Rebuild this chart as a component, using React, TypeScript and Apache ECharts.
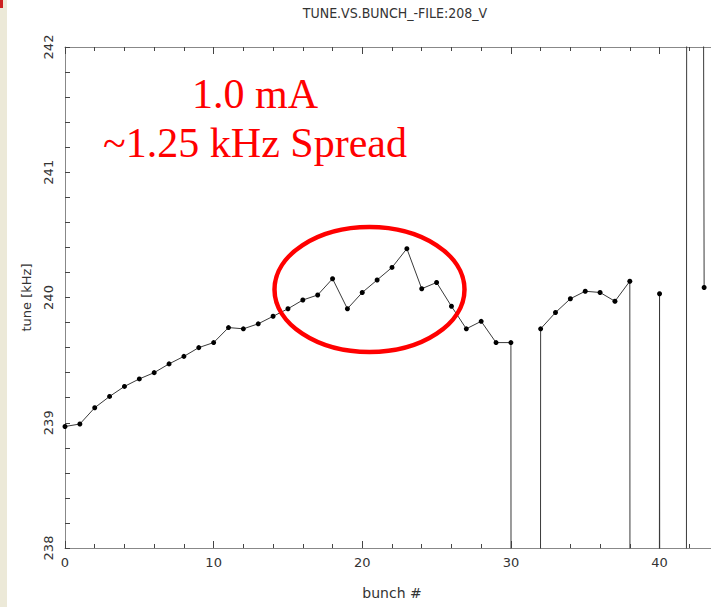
import React, { useEffect, useRef } from "react";
import * as echarts from "echarts";

const bunches: number[] = [
  0, 1, 2, 3, 4, 5, 6, 7, 8, 9, 10, 11, 12, 13, 14, 15, 16, 17, 18, 19, 20, 21,
  22, 23, 24, 25, 26, 27, 28, 29, 30, 31, 32, 33, 34, 35, 36, 37, 38, 39, 40,
  41, 42, 43,
];
// tune [kHz]; 0 entries are empty bunches (off-scale), 297.5 is off-scale high
const tunes: number[] = [
  238.97, 238.99, 239.12, 239.21, 239.29, 239.35, 239.4, 239.47, 239.53, 239.6,
  239.64, 239.76, 239.75, 239.79, 239.85, 239.91, 239.98, 240.02, 240.15,
  239.91, 240.04, 240.14, 240.24, 240.39, 240.07, 240.12, 239.93, 239.75,
  239.81, 239.64, 239.64, 0, 239.75, 239.88, 239.99, 240.05, 240.04, 239.97,
  240.13, 0, 240.03, 0, 294, 240.08,
];
const titleText = "TUNE.VS.BUNCH_-FILE:208_V";
const noteLines: string[] = ["1.0 mA", "~1.25 kHz Spread"];

const sans = '"DejaVu Sans", "Liberation Sans", sans-serif';

export default function App() {
  const ref = useRef<HTMLDivElement>(null);
  useEffect(() => {
    document.body.style.margin = "0";
    if (!ref.current) return;
    const chart = echarts.init(ref.current, undefined, { renderer: "svg" });
    const xBase = {
      type: "value" as const,
      min: 0,
      max: 44,
      splitLine: { show: false },
    };
    chart.setOption({
      animation: false,
      backgroundColor: "#ffffff",
      title: {
        text: titleText,
        left: 395,
        top: 6,
        padding: 0,
        textAlign: "center",
        textStyle: {
          fontFamily: '"DejaVu Sans Condensed", "Liberation Sans Narrow", "DejaVu Sans", sans-serif',
          fontSize: 14,
          fontWeight: "normal",
          color: "#333",
        },
      },
      grid: { left: 65, right: 0, top: 47, bottom: 59 },
      xAxis: [
        {
          ...xBase,
          position: "bottom",
          interval: 10,
          name: "bunch #",
          nameLocation: "middle",
          nameGap: 38,
          nameTextStyle: { fontFamily: sans, fontSize: 14, color: "#333" },
          axisLine: { show: true, lineStyle: { color: "#888", width: 1 } },
          axisTick: { show: true, inside: true, length: 7, lineStyle: { color: "#444" } },
          axisLabel: {
            margin: 8,
            fontFamily: sans,
            fontSize: 13,
            color: "#333",
            formatter: (v: number) => (v % 10 === 0 ? String(v) : ""),
          },
        },
        {
          ...xBase,
          position: "top",
          interval: 10,
          axisLine: { show: true, lineStyle: { color: "#888", width: 1 } },
          axisTick: { show: true, inside: true, length: 7, lineStyle: { color: "#444" } },
          axisLabel: { show: false },
        },
        {
          ...xBase,
          position: "bottom",
          interval: 2,
          axisLine: { show: false },
          axisTick: { show: true, inside: true, length: 4, lineStyle: { color: "#444" } },
          axisLabel: { show: false },
        },
        {
          ...xBase,
          position: "top",
          interval: 2,
          axisLine: { show: false },
          axisTick: { show: true, inside: true, length: 4, lineStyle: { color: "#444" } },
          axisLabel: { show: false },
        },
      ],
      yAxis: {
        type: "value",
        min: 238,
        max: 242,
        interval: 1,
        name: "tune [kHz]",
        nameLocation: "middle",
        nameRotate: 90,
        nameGap: 32,
        nameTextStyle: { fontFamily: sans, fontSize: 13, color: "#333" },
        splitLine: { show: false },
        axisLine: { show: true, lineStyle: { color: "#888", width: 1 } },
        axisTick: { show: true, inside: true, length: 5, lineStyle: { color: "#444" } },
        minorTick: { show: true, splitNumber: 5, length: 5, lineStyle: { color: "#444" } },
        axisLabel: {
          rotate: 90,
          margin: 10,
          fontFamily: sans,
          fontSize: 13,
          color: "#333",
        },
      },
      series: [
        {
          type: "line",
          xAxisIndex: 0,
          yAxisIndex: 0,
          data: bunches.map((b, i) => [b, tunes[i]]),
          clip: true,
          showAllSymbol: true,
          symbol: "circle",
          symbolSize: 5,
          itemStyle: { color: "#000" },
          lineStyle: { color: "#3a3a3a", width: 1 },
        },
      ],
      graphic: [
        {
          type: "rect",
          shape: { x: 0, y: 0, width: 7, height: 607 },
          style: { fill: "#ece9d8" },
          z: 100,
        },
        {
          type: "rect",
          shape: { x: 0, y: 0, width: 3, height: 8 },
          style: { fill: "#cc2020" },
          z: 101,
        },
        {
          type: "text",
          x: 255,
          y: 94,
          z: 100,
          style: {
            text: noteLines[0],
            fill: "#ff0000",
            font: '42px "Liberation Serif", "Times New Roman", serif',
            textAlign: "center",
            textVerticalAlign: "middle",
          },
        },
        {
          type: "text",
          x: 255,
          y: 143,
          z: 100,
          style: {
            text: noteLines[1],
            fill: "#ff0000",
            font: '42px "Liberation Serif", "Times New Roman", serif',
            textAlign: "center",
            textVerticalAlign: "middle",
          },
        },
        {
          type: "ellipse",
          z: 100,
          shape: { cx: 369.5, cy: 289.5, rx: 95, ry: 62.5 },
          style: { fill: "none", stroke: "#ff0000", lineWidth: 4.5 },
        },
      ],
    });
    return () => chart.dispose();
  }, []);
  return (
    <div style={{ width: 711, height: 607, overflow: "hidden", position: "relative" }}>
      <div ref={ref} style={{ width: 722, height: 607 }} />
    </div>
  );
}
